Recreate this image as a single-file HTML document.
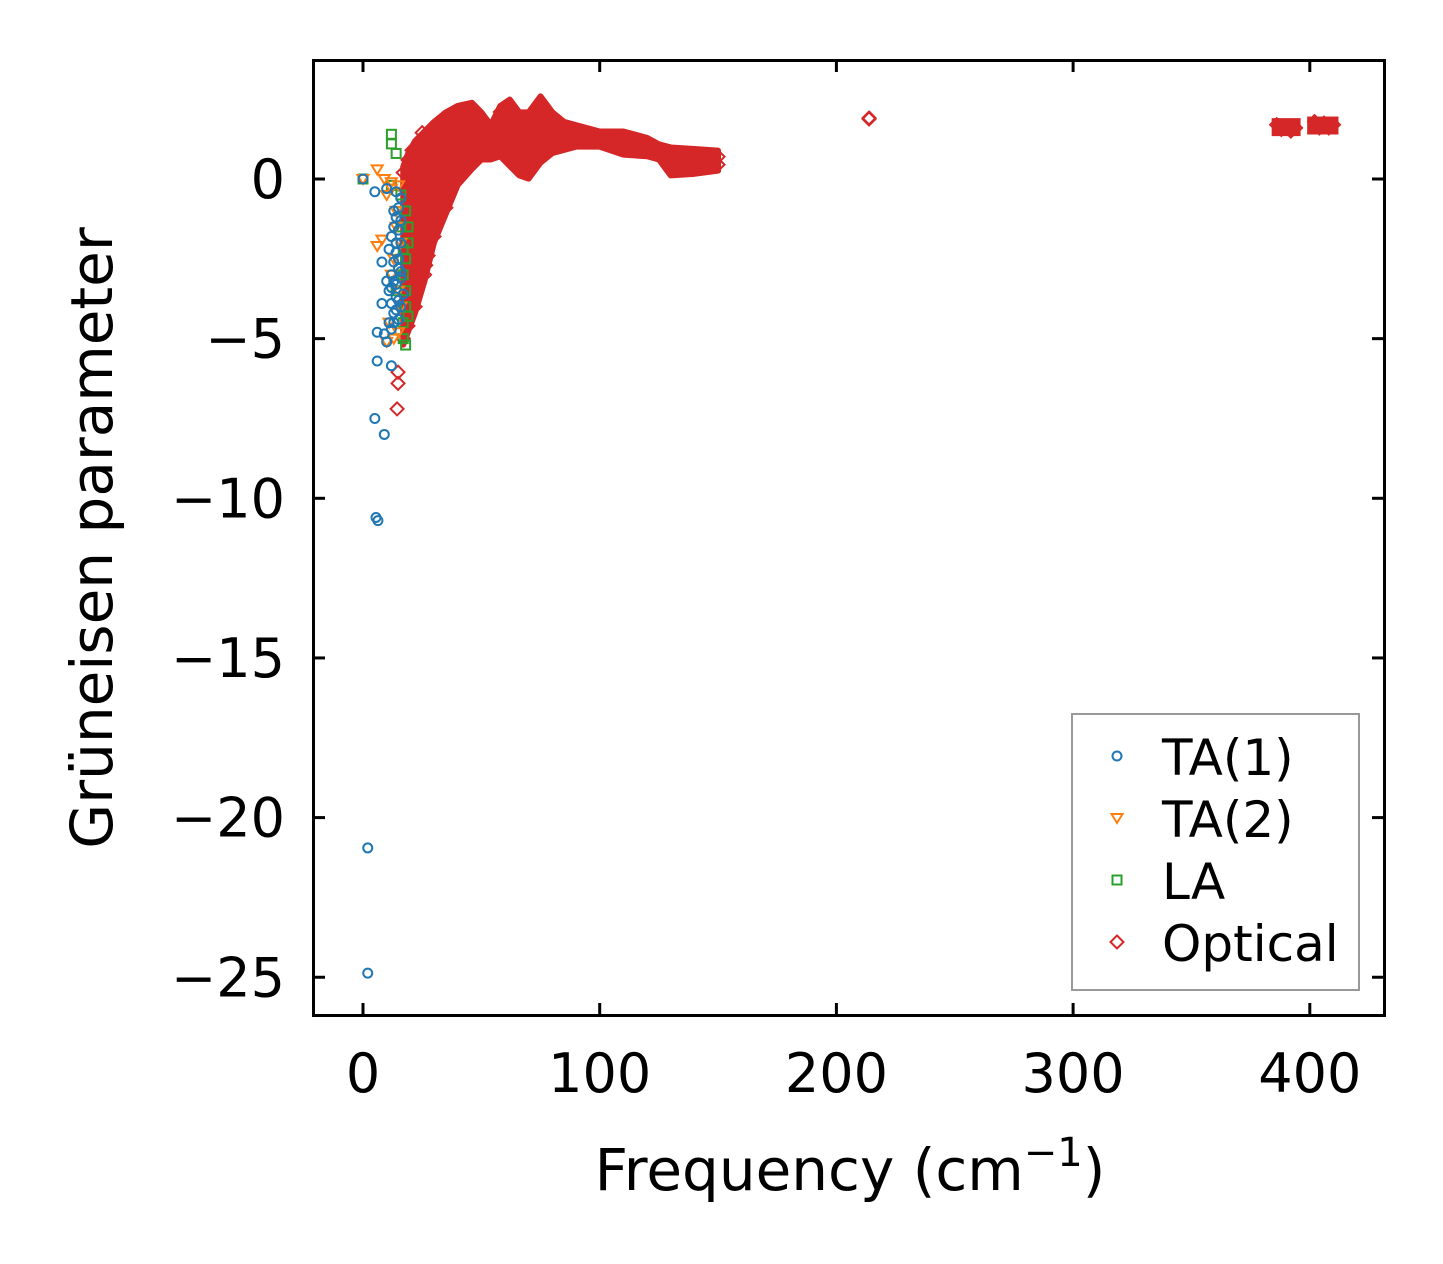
<!DOCTYPE html>
<html><head><meta charset="utf-8"><style>
html,body{margin:0;padding:0;background:#fff;}
svg{display:block;font-family:"DejaVu Sans","Liberation Sans",sans-serif;}
</style></head><body>
<svg id="chart" width="1443" height="1264" viewBox="0 0 1443 1264" xmlns="http://www.w3.org/2000/svg">
<g id="marks"></g>
<g id="axes"></g>
<g id="legend"></g>
</svg>
<script>
const xTicks=[0,100,200,300,400];
const yTicks=[0,-5,-10,-15,-20,-25];
const ta1F=[0,5,2,2,5.5,6.3,5,9,6,12,6,9,10,14,10,8,8,11,12,13,14,15,16,12,13,14,15,16,17,11,12,13,14,15,16,12,13,14,15,16,13,14,15,16,12,14,15,13,16,10,11];
const ta1G=[0,-0.4,-20.95,-24.87,-10.6,-10.7,-7.5,-8,-5.7,-5.85,-4.8,-4.85,-5.1,-0.4,-0.3,-3.9,-2.6,-2.2,-1.8,-1.5,-1.2,-0.9,-2.0,-3.0,-2.6,-2.3,-2.8,-3.1,-3.6,-3.5,-3.9,-4.2,-3.3,-4.4,-4.0,-4.7,-4.5,-3.7,-1.6,-1.3,-3.2,-2.0,-2.5,-2.9,-3.4,-4.1,-3.8,-1.0,-0.6,-3.2,-4.5];
const ta2F=[0,6,6,8,9,10,12,15,14,12,11,13,16,14,15,13,10,16,12,15];
const ta2G=[0,0.3,-2.1,-1.9,0,-0.5,-0.1,-0.2,-1,-3,-4.5,-5,-2,-1.5,-3.5,-2.5,-5.1,-4,-0.3,-4.8];
const laF=[0,12,12,14,12,16,18,19,18,17,18,17,17,18,14,19,16,18,17,19];
const laG=[0,1.4,1.1,0.8,-0.2,-0.5,-1,-1.5,-2.5,-3,-4,-4.5,-5,-5.2,-3.5,-2,-1.5,-3.5,-2.2,-4.3];
const optF=[14.8,14.8,14.4,25,20.7,27.5,26.5,213.8,213.8,386,390,394,388,392,402,406,410,404,408];
const optG=[-6.05,-6.4,-7.2,1.45,0.9,-2.4,-2.7,1.91,1.88,1.7,1.65,1.6,1.55,1.5,1.8,1.75,1.7,1.6,1.6];
const bandF=[17,19,22,26,30,35,40,46,50,54,58,62,66,70,75,80,85,90,100,110,120,125,130,140,150];
const bandHi=[0.2,0.6,1.0,1.3,1.6,1.9,2.1,2.2,1.9,1.5,2.1,2.3,1.9,1.9,2.4,1.9,1.6,1.5,1.3,1.3,1.1,0.9,0.8,0.75,0.7];
const bandLo=[-5.0,-4.6,-4.0,-3.0,-1.8,-0.9,0.0,0.5,0.8,0.8,0.9,0.6,0.3,0.2,0.7,1.0,1.1,1.2,1.2,0.95,0.9,0.8,0.3,0.35,0.45];
const X=f=>363+f*2.367, Y=g=>179-g*31.93;
const NS="http://www.w3.org/2000/svg";
function mk(tag,attrs,parent){const e=document.createElementNS(NS,tag);for(const k in attrs)e.setAttribute(k,attrs[k]);parent.appendChild(e);return e;}
const marks=document.getElementById('marks'),axes=document.getElementById('axes'),leg=document.getElementById('legend');
const C={b:'#1f77b4',o:'#ff7f0e',g:'#2ca02c',r:'#d62728'};
function marker(type,x,y,p,name){let e;
 if(type==='circle')e=mk('circle',{cx:x,cy:y,r:4.5,fill:'none',stroke:C.b,'stroke-width':2},p);
 else if(type==='tri')e=mk('path',{d:`M${x-5.5},${y-4}L${x+5.5},${y-4}L${x},${y+5}Z`,fill:'none',stroke:C.o,'stroke-width':2},p);
 else if(type==='sq')e=mk('rect',{x:x-4.5,y:y-4.5,width:9,height:9,fill:'none',stroke:C.g,'stroke-width':2},p);
 else e=mk('path',{d:`M${x},${y-6.5}L${x+6.5},${y}L${x},${y+6.5}L${x-6.5},${y}Z`,fill:'none',stroke:C.r,'stroke-width':2},p);
 
 
 return e;}
let d='';bandF.forEach((f,i)=>{d+=(i?'L':'M')+X(f)+','+(Y(bandHi[i])-6);});
for(let i=bandF.length-1;i>=0;i--)d+='L'+X(bandF[i])+','+(Y(bandLo[i])+6);
const band=mk('path',{d:d+'Z',fill:C.r,stroke:C.r,'stroke-width':6,'stroke-linejoin':'round'},marks);


bandF.forEach((f,i)=>{marker('dia',X(f),Y(bandHi[i]),marks,'optical-point');marker('dia',X(f),Y(bandLo[i]),marks,'optical-point');});
optF.forEach((f,i)=>marker('dia',X(f),Y(optG[i]),marks,'optical-point'));
[[386,394,1.5,1.75],[401,410,1.55,1.8]].forEach(c=>{const r=mk('rect',{x:X(c[0])-5,y:Y(c[3])-5,width:X(c[1])-X(c[0])+10,height:Y(c[2])-Y(c[3])+10,fill:C.r},marks);
 
 });
laF.forEach((f,i)=>marker('sq',X(f),Y(laG[i]),marks,'la-point'));
ta2F.forEach((f,i)=>marker('tri',X(f),Y(ta2G[i]),marks,'ta2-point'));
ta1F.forEach((f,i)=>marker('circle',X(f),Y(ta1G[i]),marks,'ta1-point'));
const fr=mk('rect',{x:313.5,y:60.5,width:1071,height:955,fill:'none',stroke:'#000','stroke-width':3},axes);


xTicks.forEach(t=>{const x=X(t);
 mk('line',{x1:x,x2:x,y1:1015,y2:1003,stroke:'#000','stroke-width':3},axes);
 mk('line',{x1:x,x2:x,y1:60,y2:72,stroke:'#000','stroke-width':3},axes);
 const tx=mk('text',{x:x,y:1092,'font-size':54,'text-anchor':'middle'},axes);tx.textContent=t;
 
 });
yTicks.forEach(t=>{const y=Y(t);
 mk('line',{x1:313,x2:325,y1:y,y2:y,stroke:'#000','stroke-width':3},axes);
 mk('line',{x1:1384,x2:1372,y1:y,y2:y,stroke:'#000','stroke-width':3},axes);
 const tx=mk('text',{x:285,y:y+19,'font-size':54,'text-anchor':'end'},axes);tx.textContent=t<0?'\u2212'+(-t):t;
 
 });
const xl=mk('text',{x:850,y:1190,'font-size':58,'text-anchor':'middle'},axes);
xl.innerHTML='Frequency (cm<tspan dy="-24" font-size="40">\u22121</tspan><tspan dy="24">)</tspan>';


const yl=mk('text',{x:0,y:0,'font-size':58,'text-anchor':'middle',transform:'translate(112,538) rotate(-90)'},axes);
yl.textContent='Grüneisen parameter';


const lb=mk('rect',{x:1072,y:714,width:287,height:276,fill:'#fff',stroke:'#999','stroke-width':2},leg);


const labels=['TA(1)','TA(2)','LA','Optical'],types=['circle','tri','sq','dia'];
labels.forEach((l,i)=>{const y=756+i*62;
 marker(types[i],1117,y,leg,'legend-marker');
 const t=mk('text',{x:1162,y:y+19,'font-size':50},leg);t.textContent=l;
 
 });
</script>
</body></html>
